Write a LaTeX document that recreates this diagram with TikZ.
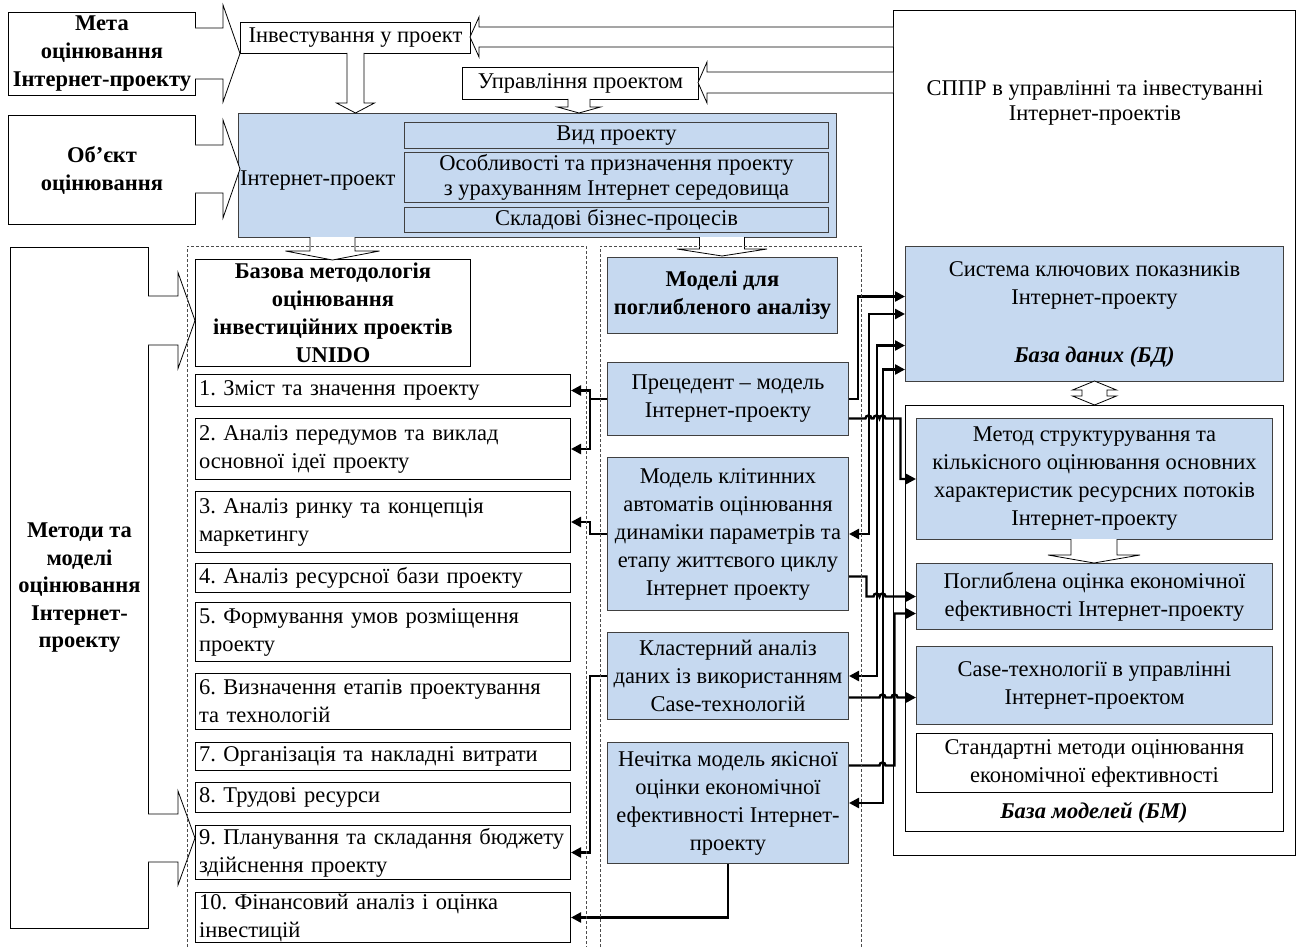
\documentclass[tikz,border=0pt]{standalone}
\usepackage{fontspec}
\setmainfont{Liberation Serif}
\usetikzlibrary{arrows.meta,positioning}

\definecolor{boxblue}{RGB}{198,217,240}

\newcommand{\blockright}[6]{\draw[hollow] (#1,#3-#4) -- (#2-#6,#3-#4) -- (#2-#6,#3-#5) -- (#2,#3) -- (#2-#6,#3+#5) -- (#2-#6,#3+#4) -- (#1,#3+#4);}
\newcommand{\blockleft}[6]{\draw[hollow] (#1,#3-#4) -- (#2+#6,#3-#4) -- (#2+#6,#3-#5) -- (#2,#3) -- (#2+#6,#3+#5) -- (#2+#6,#3+#4) -- (#1,#3+#4);}
\newcommand{\blockdown}[6]{\draw[hollow] (#1-#4,#2) -- (#1-#4,#3-#6) -- (#1-#5,#3-#6) -- (#1,#3) -- (#1+#5,#3-#6) -- (#1+#4,#3-#6) -- (#1+#4,#2);}
\newcommand{\blockboth}[6]{\draw[hollow] (#1-#4,#2+#6) -- (#1-#5,#2+#6) -- (#1,#2) -- (#1+#5,#2+#6) -- (#1+#4,#2+#6) -- (#1+#4,#3-#6) -- (#1+#5,#3-#6) -- (#1,#3) -- (#1-#5,#3-#6) -- (#1-#4,#3-#6) -- cycle;}
\newcommand{\hop}{arc[start angle=180, end angle=0, radius=3pt]}

\frenchspacing

\begin{document}
\begin{tikzpicture}[x=1pt, y=-1pt,
    every node/.style={font=\fontsize{22.5}{28}\selectfont, align=center},
    box/.style={draw, line width=1pt, fill=white, anchor=north west, inner xsep=4pt, inner ysep=0pt, align=center},
    bluebox/.style={box, fill=boxblue, draw=black!75},
    headbox/.style={box, font=\fontsize{22.5}{28}\selectfont\bfseries},
    itembox/.style={box, align=left, text width=368pt, minimum width=375pt, inner xsep=3.5pt},
    hollow/.style={draw, line width=0.8pt, fill=white},
    link/.style={line width=2.4pt, ->},
    link2/.style={line width=2.4pt, <->},
    >={Triangle[length=10pt, width=10pt]},
    dashframe/.style={draw=black!70, line width=0.8pt, dash pattern=on 3pt off 2pt}]

    \useasboundingbox (0,0) rectangle (1296,947);

      \node[headbox, minimum width=187pt, minimum height=83pt] (goal) at (8,12) {Мета\\оцінювання\\Інтернет-проекту};
      \node[headbox, minimum width=187pt, minimum height=109pt] (object) at (8,115) {Об’єкт\\оцінювання};
      \node[headbox, minimum width=138pt, minimum height=681pt, font=\fontsize{22.5}{27.5}\selectfont\bfseries] (methods) at (10,247) {Методи та\\моделі\\оцінювання\\Інтернет-\\проекту};

      \node[box, minimum width=230pt, minimum height=31pt] (invest) at (240,22) {Інвестування у проект};
      \node[box, minimum width=236pt, minimum height=32pt] (manage) at (462,67) {Управління проектом};

      \node[bluebox, minimum width=598pt, minimum height=124pt] (inet) at (238,113) {};
      \node[anchor=west, inner sep=2pt] (inetlabel) at ([yshift=-5pt]inet.west) {Інтернет-проект};
      \node[bluebox, minimum width=424pt, minimum height=26pt] (kind) at (404,122) {Вид проекту};
      \node[bluebox, minimum width=424pt, minimum height=50pt, font=\fontsize{22.5}{25}\selectfont] (features) at (404,152) {Особливості та призначення проекту\\з урахуванням Інтернет середовища};
      \node[bluebox, minimum width=424pt, minimum height=25pt] (parts) at (404,207) {Складові бізнес-процесів};

      \node[headbox, minimum width=275pt, minimum height=107pt] (unido) at (195,259) {Базова методологія\\оцінювання\\інвестиційних проектів\\UNIDO};
      \node[itembox, minimum height=32pt] (item1) at (195,374) {1. Зміст та значення проекту};
      \node[itembox, minimum height=61pt] (item2) at (195,418) {2. Аналіз передумов та виклад\\основної ідеї проекту};
      \node[itembox, minimum height=61pt] (item3) at (195,491) {3. Аналіз ринку та концепція\\маркетингу};
      \node[itembox, minimum height=29pt] (item4) at (195,563) {4. Аналіз ресурсної бази проекту};
      \node[itembox, minimum height=59pt] (item5) at (195,602) {5. Формування умов розміщення\\проекту};
      \node[itembox, minimum height=56pt] (item6) at (195,673) {6. Визначення етапів проектування\\та технологій};
      \node[itembox, minimum height=28pt] (item7) at (195,742) {7. Організація та накладні витрати};
      \node[itembox, minimum height=30pt] (item8) at (195,782) {8. Трудові ресурси};
      \node[itembox, minimum height=54pt] (item9) at (195,825) {9.~Планування~та~складання~бюджету\\здійснення проекту};
      \node[itembox, minimum height=50pt] (item10) at (195,892) {10. Фінансовий аналіз і оцінка\\інвестицій};

      \node[bluebox, minimum width=230pt, minimum height=76pt, font=\fontsize{22.5}{28}\selectfont\bfseries] (deep) at (607,257) {Моделі для\\поглибленого аналізу};
      \node[bluebox, minimum width=241pt, minimum height=73pt] (prec) at (607,362) {Прецедент – модель\\Інтернет-проекту};
      \node[bluebox, minimum width=241pt, minimum height=153pt] (cell) at (607,457) {Модель клітинних\\автоматів оцінювання\\динаміки параметрів та\\етапу життєвого циклу\\Інтернет проекту};
      \node[bluebox, minimum width=241pt, minimum height=87pt] (cluster) at (607,632) {Кластерний аналіз\\даних із використанням\\Case-технологій};
      \node[bluebox, minimum width=241pt, minimum height=121pt] (fuzzy) at (607,742) {Нечітка модель якісної\\оцінки економічної\\ефективності Інтернет-\\проекту};

      \node[box, minimum width=402pt, minimum height=845pt] (dss) at (893,10) {};
      \node[font=\fontsize{22.5}{25}\selectfont] (dsslabel) at (1095,103) {СППР в управлінні та інвестуванні\\Інтернет-проектів};
      \node[bluebox, minimum width=378pt, minimum height=135pt] (keys) at (905,246) {Система ключових показників\\Інтернет-проекту\\[30pt]\textbf{\textit{База даних (БД)}}};
      \node[box, minimum width=378pt, minimum height=426pt] (models) at (905,405) {};
      \node[bluebox, minimum width=356pt, minimum height=121pt] (method) at (916,418) {Метод структурування та\\кількісного оцінювання основних\\характеристик ресурсних потоків\\Інтернет-проекту};
      \node[bluebox, minimum width=356pt, minimum height=66pt] (effect) at (916,563) {Поглиблена оцінка економічної\\ефективності Інтернет-проекту};
      \node[bluebox, minimum width=356pt, minimum height=78pt] (casetech) at (916,646) {Case-технології в управлінні\\Інтернет-проектом};
      \node[box, minimum width=356pt, minimum height=59pt] (standard) at (916,733) {Стандартні методи оцінювання\\економічної ефективності};
      \node (modelslabel) at (1094,813) {\textbf{\textit{База моделей (БМ)}}};

      \blockright{195}{240}{53.5}{25.5}{48.5}{17}
      \blockright{195}{240}{169}{24}{49}{17}
      \blockright{148}{195}{320.5}{24.5}{48}{17}
      \blockright{148}{195}{838}{24}{47}{17}
      \blockleft{893}{470}{37}{10}{20}{9}
      \blockleft{893}{698}{82.5}{10.5}{20.5}{9}
      \blockdown{355.5}{53}{113}{8.5}{19}{10}
      \blockdown{579}{99}{113}{11}{21.5}{6}
      \blockdown{332.5}{237}{260}{22.5}{47}{9}
      \blockdown{722}{237}{256}{22.5}{45}{7}
      \blockdown{1094}{539}{563}{23}{46}{8}
      \blockboth{1094.5}{381}{405}{12.5}{22}{9}

      \draw[link] (prec.west) -- ++(-17,0) coordinate (fork) |- (item1.east);
      \draw[link] (fork) |- (item2.east);
      \draw[link] (cell.west) -- ++(-17,0) |- (item3.east);
      \draw[link] (cluster.west) -- ++(-17,0) |- (item9.east);
      \draw[link] (fuzzy.south) |- (item10.east);

      \draw[link] (prec.east) -- ++(9,0) |- ([yshift=17.5pt]keys.west);
      \draw[link2] (cell.east) -- ++(20,0) |- (keys.west);
      \draw[link2] (cluster.east) -- ++(28,0) |- ([yshift=-31.5pt]keys.west);
      \draw[link2] (fuzzy.east) -- ++(34,0) |- ([yshift=-55.5pt]keys.west);

      \draw[link] ([yshift=-19.5pt]prec.east) -- ++(16.5,0) \hop -- ++(2,0) \hop \hop -- ++(15,0) |- (method.west);
      \draw[link] ([yshift=-42.5pt]cell.east) -- ++(17.5,0) -- ++(0,20) -- ++(7,0) \hop \hop -- (effect.west);
      \draw[link] ([yshift=-21.5pt]cluster.east) -- ++(30.5,0) \hop -- ++(6,0) \hop -- ([yshift=-12pt]casetech.west);
      \draw[link] ([yshift=37.5pt]fuzzy.east) -- ++(30.5,0) \hop -- ++(9,0) |- ([yshift=-17pt]effect.west);

      \draw[dashframe] (187,947) |- (586,246) -- (586,947);
      \draw[dashframe] (600,947) |- (861,246) -- (861,947);
  \end{tikzpicture}
\end{document}
